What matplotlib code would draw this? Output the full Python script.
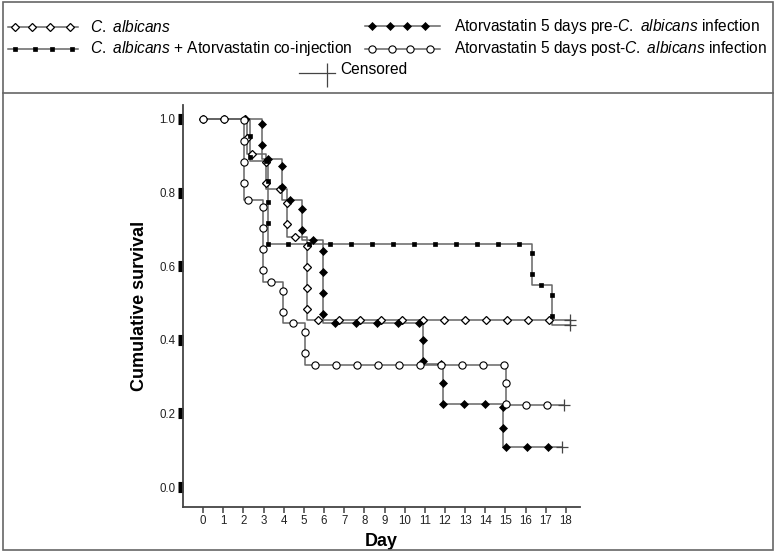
import numpy as np
import matplotlib.pyplot as plt
from matplotlib.lines import Line2D
from matplotlib.patches import Rectangle

plt.rcParams['font.family'] = ['Liberation Sans', 'DejaVu Sans']
plt.rcParams['mathtext.fontset'] = 'custom'
plt.rcParams['mathtext.rm'] = 'Liberation Sans'
plt.rcParams['mathtext.it'] = 'Liberation Sans:italic'

# --- data ---
day_ticks = list(range(19))
surv_ticks = [0.0, 0.2, 0.4, 0.6, 0.8, 1.0]

# event days, survival after each step (first value = start), censor day
ca_t = [2.2, 3.1, 4.15, 5.15]
ca_s = [1.0, 0.905, 0.81, 0.68, 0.455]
ca_end = 18.2

co_t = [2.3, 3.2, 16.3, 17.3]
co_s = [1.0, 0.885, 0.66, 0.55, 0.44]
co_end = 18.2

pre_t = [2.9, 3.9, 4.9, 5.95, 10.9, 11.9, 14.9]
pre_s = [1.0, 0.89, 0.78, 0.67, 0.445, 0.335, 0.225, 0.11]
pre_end = 17.8

post_t = [2.05, 2.95, 3.95, 5.05, 15.05]
post_s = [1.0, 0.78, 0.556, 0.445, 0.333, 0.222]
post_end = 17.9

W, H = 777, 553
fig = plt.figure(figsize=(W/100, H/100), dpi=100)

# frame round the whole figure + line under the legend
fig.patches.append(Rectangle((3/W, 3/H), 770/W, 548/H, transform=fig.transFigure,
                             fill=False, ec='#666666', lw=1.2))
fig.lines.append(Line2D([3/W, 773/W], [1-93/H, 1-93/H], transform=fig.transFigure,
                        color='#666666', lw=1.2))

ax = fig.add_axes([183/W, 1-507/H, (580-183)/W, (507-105)/H])
ax.set_xlim(-1, 18.7)
ax.set_ylim(-0.054, 1.038)
for s in ['top', 'right']:
    ax.spines[s].set_visible(False)
for s in ['left', 'bottom']:
    ax.spines[s].set_color('#444444')
    ax.spines[s].set_linewidth(1.3)

ax.set_xticks(day_ticks)
ax.set_yticks(surv_ticks)
ax.set_yticklabels([f'{v:.1f}' for v in surv_ticks])
ax.tick_params(axis='x', direction='out', length=4, width=1.1, color='#444444',
               labelsize=8.3, labelcolor='#222222', pad=2)
ax.tick_params(axis='y', direction='out', length=3.6, width=8, color='black',
               labelsize=8.3, labelcolor='#222222', pad=2)
ax.set_xlabel('Day', fontsize=13, fontweight='bold', labelpad=4)
ax.set_ylabel('Cumulative survival', fontsize=13, fontweight='bold', labelpad=8)


def step_path(t, s, end):
    xs = np.concatenate([[0], np.repeat(t, 2), [end]])
    ys = np.repeat(s, 2)
    return xs, ys


def marker_points(xs, ys, spacing=21, stop=14):
    pts = ax.transData.transform(np.column_stack([xs, ys]))
    seg = np.hypot(*np.diff(pts, axis=0).T)
    cum = np.concatenate([[0], np.cumsum(seg)])
    d = np.arange(0, cum[-1] - stop, spacing)
    px = np.interp(d, cum, pts[:, 0])
    py = np.interp(d, cum, pts[:, 1])
    back = ax.transData.inverted().transform(np.column_stack([px, py]))
    return back[:, 0], back[:, 1]


line_col = '#666666'
series = [
    (ca_t, ca_s, ca_end, dict(marker='D', ms=3.8, mfc='white', mec='black', mew=0.9)),
    (co_t, co_s, co_end, dict(marker='s', ms=3.2, mfc='black', mec='black', mew=0.5)),
    (pre_t, pre_s, pre_end, dict(marker='D', ms=4.0, mfc='black', mec='black', mew=0.5)),
    (post_t, post_s, post_end, dict(marker='o', ms=5.2, mfc='white', mec='black', mew=0.8)),
]

for t, s, end, mk in series:
    xs, ys = step_path(t, s, end)
    ax.plot(xs, ys, color=line_col, lw=1.1, zorder=2)
    mx, my = marker_points(xs, ys)
    ax.plot(mx, my, ls='none', zorder=3, **mk)
    # censored mark: a cross the line runs through
    ax.plot([end], [s[-1]], ls='none', marker='+', ms=9, mew=0.9, color='#444444', zorder=3)

# --- legend drawn in the top band ---
lax = fig.add_axes([0, 1-93/H, 1, 93/H])
lax.set_xlim(0, W)
lax.set_ylim(93, 0)
lax.axis('off')

leg = [
    (8, 78, 27, [15, 32, 50, 70], series[0][3], r'$\mathit{C.\ albicans}$', 90),
    (8, 78, 49, [15, 35, 52, 72], series[1][3],
     r'$\mathit{C.\ albicans}$ + Atorvastatin co-injection', 90),
    (365, 440, 26, [372, 390, 407, 425], series[2][3],
     r'Atorvastatin 5 days pre-$\mathit{C.\ albicans}$ infection', 454),
    (365, 440, 49, [372, 392, 410, 430], series[3][3],
     r'Atorvastatin 5 days post-$\mathit{C.\ albicans}$ infection', 454),
]
for x0, x1, y, mxs, mk, label, tx in leg:
    lax.plot([x0, x1], [y, y], color=line_col, lw=1.1)
    lax.plot(mxs, [y]*len(mxs), ls='none', **mk)
    lax.text(tx, y, label, fontsize=11.2, va='center', ha='left')

lax.plot([299, 335], [73, 73], color='#444444', lw=0.9)
lax.plot([327], [75], ls='none', marker='|', ms=17, mew=0.9, color='#444444')
lax.text(340, 70, 'Censored', fontsize=11.2, va='center', ha='left')

fig.savefig('out.png', dpi=100)
